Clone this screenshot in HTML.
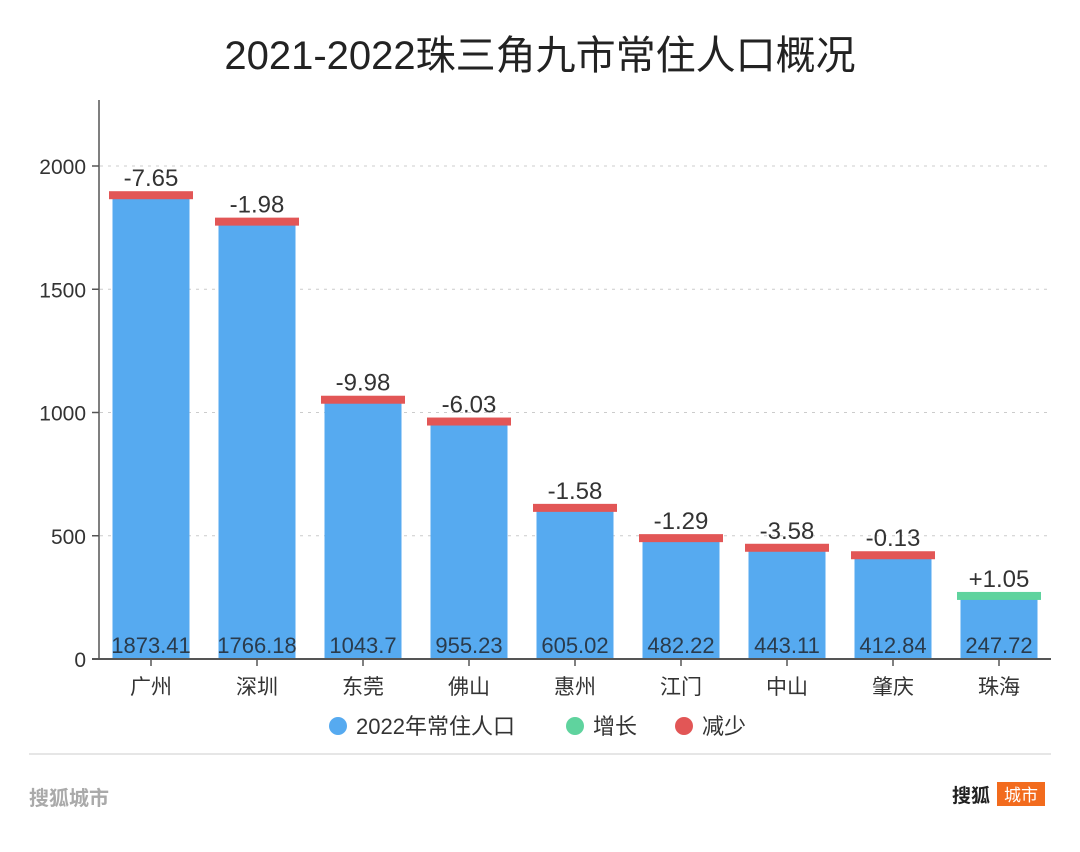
<!DOCTYPE html>
<html><head><meta charset="utf-8"><style>
body{margin:0;background:#fff;width:1080px;height:847px;overflow:hidden;font-family:"Liberation Sans","Noto Sans CJK SC",sans-serif}
</style></head><body>
<svg width="1080" height="847" style="font-family:'Liberation Sans','Noto Sans CJK SC',sans-serif">
<text x="540" y="69" text-anchor="middle" font-size="40" fill="#222">2021-2022珠三角九市常住人口概况</text>
<g id="grid"></g><g id="bars"></g><g id="axes"></g>
<g>
<circle cx="338" cy="726" r="9" fill="#56aaf0"/><text x="356" y="734" font-size="22" fill="#333">2022年常住人口</text>
<circle cx="575" cy="726" r="9" fill="#5fd39e"/><text x="593" y="734" font-size="22" fill="#333">增长</text>
<circle cx="684" cy="726" r="9" fill="#e25656"/><text x="702" y="734" font-size="22" fill="#333">减少</text>
</g>
<line x1="29" y1="754" x2="1051" y2="754" stroke="#ddd" stroke-width="1.5"/>
<text x="29" y="805" font-size="20" fill="#aaa" font-weight="bold">搜狐城市</text>
<text x="952" y="802" font-size="19" fill="#222" font-weight="bold">搜狐</text>
<rect x="997" y="782" width="48" height="24" fill="#f26b1d"/>
<text x="1021" y="801" font-size="17" fill="#fff" text-anchor="middle">城市</text>
</svg>
<script>
const cities=["广州","深圳","东莞","佛山","惠州","江门","中山","肇庆","珠海"];
const population=[1873.41,1766.18,1043.7,955.23,605.02,482.22,443.11,412.84,247.72];
const change=[-7.65,-1.98,-9.98,-6.03,-1.58,-1.29,-3.58,-0.13,1.05];
const changeLabels=["-7.65","-1.98","-9.98","-6.03","-1.58","-1.29","-3.58","-0.13","+1.05"];
const yTicks=[0,500,1000,1500,2000];
const NS="http://www.w3.org/2000/svg";
const y0=659,pxPer=493/2000;
const y=v=>y0-v*pxPer;
const x=i=>151+i*106;
function mk(t,a,p,txt){const e=document.createElementNS(NS,t);for(const k in a)e.setAttribute(k,a[k]);if(txt!=null)e.textContent=txt;p.appendChild(e);return e;}
const grid=document.getElementById('grid'),bars=document.getElementById('bars'),axes=document.getElementById('axes');
yTicks.forEach(t=>{
 if(t>0){const g=mk('line',{x1:100,x2:1050,y1:y(t),y2:y(t),stroke:'#ccc','stroke-dasharray':'3,5'},grid);
 
 }
 const l=mk('text',{x:86,y:y(t)+8,'text-anchor':'end','font-size':21,fill:'#333'},axes,String(t));
 
 
 mk('line',{x1:92,x2:99,y1:y(t),y2:y(t),stroke:'#555','stroke-width':1.5},axes);
});
cities.forEach((c,i)=>{
 const cx=x(i),top=y(population[i]);
 const b=mk('rect',{x:cx-38.5,y:top,width:77,height:y0-top,fill:'#56aaf0'},bars);
 
 
 const cap=mk('rect',{x:cx-42,y:top-6,width:84,height:8,fill:change[i]<0?'#e25656':'#5fd39e'},bars);
 
 
 const cl=mk('text',{x:cx,y:top-11,'text-anchor':'middle','font-size':24,fill:'#333'},bars,changeLabels[i]);
 
 
 const pl=mk('text',{x:cx,y:y0-6,'text-anchor':'middle','font-size':22,fill:'#2a3b4c'},bars,String(population[i]));
 
 
 mk('line',{x1:cx,x2:cx,y1:y0,y2:y0+7,stroke:'#555','stroke-width':1.5},axes);
 const xl=mk('text',{x:cx,y:y0+35,'text-anchor':'middle','font-size':21,fill:'#333'},axes,c);
 
 
});
const ya=mk('line',{x1:99,x2:99,y1:100,y2:y0,stroke:'#555','stroke-width':1.5},axes);


const xa=mk('line',{x1:92,x2:1051,y1:y0,y2:y0,stroke:'#555','stroke-width':2},axes);


</script>
</body></html>
